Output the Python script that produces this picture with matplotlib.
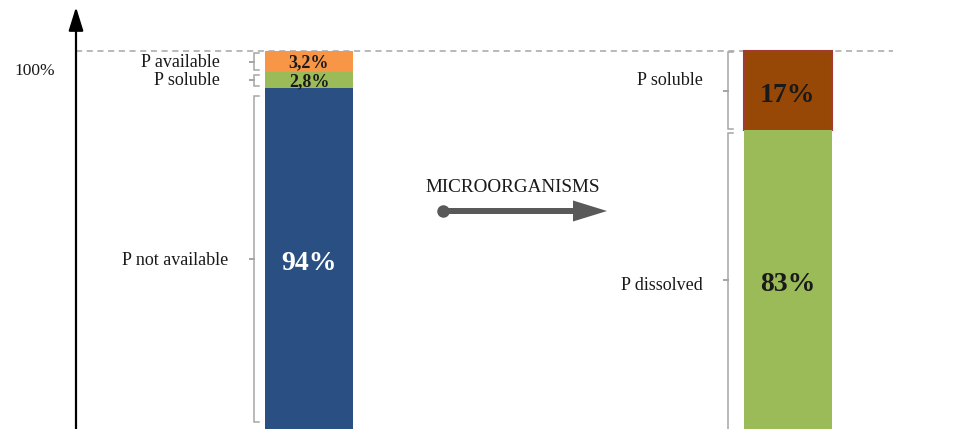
import matplotlib
matplotlib.use('Agg')
import matplotlib.pyplot as plt

# ---------------- data ----------------
before_labels = ['P available', 'P soluble', 'P not available']
before_values = ['3,2%', '2,8%', '94%']
before_heights = [5.6, 4.3, 90.1]          # drawn extents (axis is not to scale)
before_colors = ['#F79646', '#9BBB59', '#2A4F83']
before_text_colors = ['#1a1a1a', '#1a1a1a', 'white']
before_text_sizes = [13, 13, 20]

after_labels = ['P soluble', 'P dissolved']
after_values = ['17%', '83%']
after_heights = [20.9, 79.1]
after_colors = ['#974806', '#9BBB59']
after_edges = ['#A33A36', '#9BBB59']
after_text_colors = ['#1a1a1a', '#1a1a1a']
after_text_sizes = [20, 20]

axis_label = '100%'
process_label = 'MICROORGANISMS'

# ---------------- layout ----------------
W, H = 973, 429
PX = 100 / 378.0          # y-units per pixel


def py(p):
    return (H - p) * PX


fig = plt.figure(figsize=(9.73, 4.29), dpi=100)
ax = fig.add_axes([0, 0, 1, 1])
ax.set_xlim(0, W)
ax.set_ylim(0, py(0))
ax.axis('off')

serif = ['Liberation Serif', 'DejaVu Serif']
bracket_col = '#A6A6A6'


def bracket(x, top, bottom, mid):
    ax.plot([x + 5, x, x, x - 5, x, x, x + 5],
            [top, top, mid, mid, mid, bottom, bottom],
            color=bracket_col, lw=1.1, solid_joinstyle='miter')


def stack(xc, width, heights, colors, edges, values, tcolors, tsizes,
          labels, bx, label_rights, pads, label_sizes, label_shift,
          value_shift):
    top = 100.0
    for h, c, e, v, tc, ts, lab, pad, ls, lr, sh, vs in zip(
            heights, colors, edges, values, tcolors, tsizes, labels, pads,
            label_sizes, label_rights, label_shift, value_shift):
        bottom = top - h
        ax.bar(xc, h, width=width, bottom=bottom, color=c, edgecolor=e,
               linewidth=1.5 if e != c else 0, zorder=3)
        mid = (top + bottom) / 2
        ax.text(xc, mid - vs * PX, v, ha='center', va='center', color=tc,
                fontsize=ts, fontweight='bold', family=serif, zorder=4)
        bracket(bx, top - pad[0] * PX, bottom + pad[1] * PX, mid)
        ax.text(lr, mid - sh * PX, lab, ha='right', va='center',
                fontsize=ls, family=serif, color='#1a1a1a')
        top = bottom


# dashed 100% line
ax.plot([76, 893], [100, 100], color='#A6A6A6', lw=1.1,
        dashes=(4, 3), zorder=2)

stack(309, 88, before_heights, before_colors, before_colors, before_values,
      before_text_colors, before_text_sizes, before_labels, 254,
      [220, 220, 228], [(2.5, 2.5), (2.5, 2.0), (8, 7)], [13, 13, 13],
      [1, 0, 2], [1, 1, 5])

stack(787.5, 88, after_heights, after_colors, after_edges, after_values,
      after_text_colors, after_text_sizes, after_labels, 728, [703, 703],
      [(1.5, 1.5), (3, -10)], [13, 13], [-10, 6], [5, 5])

# vertical axis arrow
ax.annotate('', xy=(76, py(7)), xytext=(76, py(H + 2)),
            arrowprops=dict(arrowstyle='-|>,head_length=0.9,head_width=0.28',
                            color='black', lw=1.6, mutation_scale=16,
                            shrinkA=0, shrinkB=0))
ax.text(35, py(71), axis_label, ha='center', va='center', fontsize=12.5,
        family=serif, color='#1a1a1a')

# process arrow
ax.text(513, py(188), process_label, ha='center', va='center', fontsize=13.8,
        family=serif, color='#1a1a1a')
ax.arrow(443, py(211), 130, 0, width=6 * PX, head_width=21 * PX,
         head_length=34, length_includes_head=False, color='#595959', lw=0)
ax.plot([443], [py(211)], 'o', color='#595959', markersize=8)

fig.savefig('out.png', dpi=100)
